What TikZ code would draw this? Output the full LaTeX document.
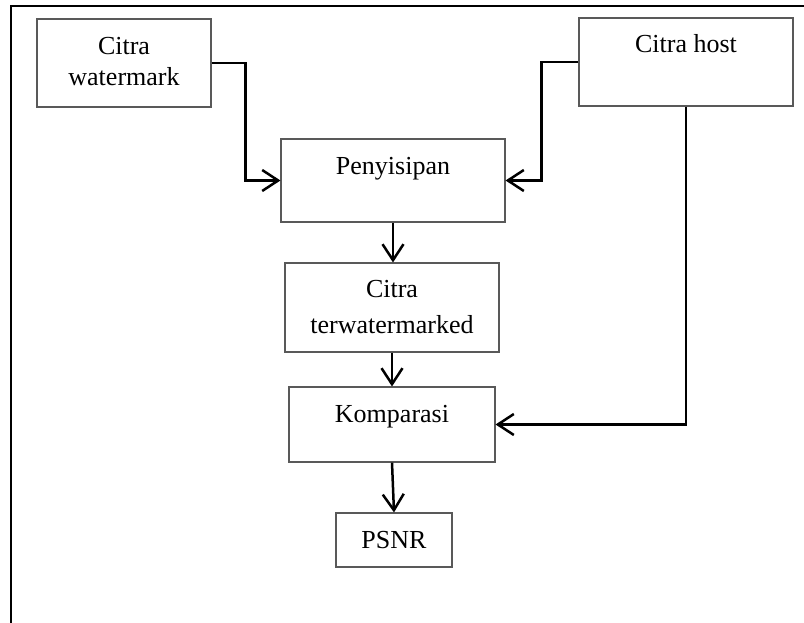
\documentclass[tikz,border=0pt]{standalone}
\usepackage{fontspec}
\setmainfont{Liberation Serif}
\usetikzlibrary{arrows.meta}
\begin{document}
\begin{tikzpicture}[x=1pt,y=-1pt,
  box/.style={draw=black!65, line width=1.1pt, fill=white, inner sep=0pt},
  txt/.style={anchor=base, inner sep=0pt, font=\fontsize{26}{30}\selectfont},
  arr/.style={line width=2.5pt, -{Straight Barb[length=16pt,width=21pt,line width=2.5pt]}},
  frame/.style={line width=2.4pt}]
\useasboundingbox (0,0) rectangle (804,623);
\draw[frame] (11,623) -- (11,6) -- (804,6);
% boxes
\node[box, minimum width=174pt, minimum height=88pt] (wm)   at (124,63)  {};
\node[box, minimum width=214pt, minimum height=88pt] (host) at (686,62)  {};
\node[box, minimum width=224pt, minimum height=83pt] (peny) at (393,180.5) {};
\node[box, minimum width=214pt, minimum height=89pt] (terw) at (392,307.5) {};
\node[box, minimum width=206pt, minimum height=75pt] (komp) at (392,424.5) {};
\node[box, minimum width=116pt, minimum height=54pt] (psnr) at (394,540) {};
% texts
\node[txt] (wm1) at (124,55) {Citra};
\node[txt] (wm2) at (124,86) {watermark};
\node[txt] (host1) at (686,53) {Citra host};
\node[txt] (peny1) at (393,175) {Penyisipan};
\node[txt] (terw1) at (392,298) {Citra};
\node[txt] (terw2) at (392,333) {terwatermarked};
\node[txt] (komp1) at (392,422.5) {Komparasi};
\node[txt] (psnr1) at (394,548) {PSNR};
% connectors
\draw[arr] (wm.east) -- ++(34,0) |- (peny.west);
\draw[arr] (host.west) -- ++(-37,0) |- (peny.east);
\draw[arr] (peny.south) -- (peny.south |- terw.north);
\draw[arr] (terw.south) -- (komp.north);
\draw[arr] (host.south) |- (komp.east);
\draw[arr] (komp.south) -- (psnr.north);
\end{tikzpicture}
\end{document}
